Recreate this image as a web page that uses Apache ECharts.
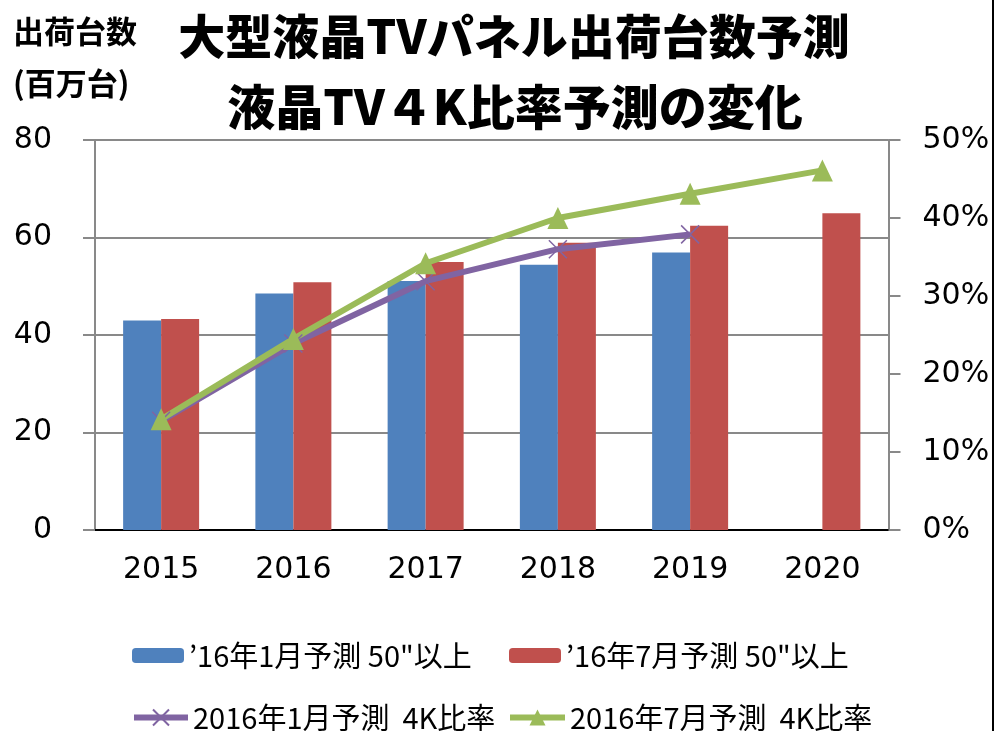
<!DOCTYPE html>
<html>
<head>
<meta charset="utf-8">
<script src="https://cdn.jsdelivr.net/npm/echarts@6/dist/echarts.min.js"></script>
<style>
html, body { margin: 0; padding: 0; background: #fff; }
#chart { width: 999px; height: 731px; }
</style>
</head>
<body>
<div id="chart"></div>
<script>
// 年
var years = ['2015', '2016', '2017', '2018', '2019', '2020'];
// 出荷台数 (百万台)
var jan50 = [43.0, 48.5, 51.1, 54.4, 56.9, null];
var jul50 = [43.3, 50.8, 55.0, 58.9, 62.4, 65.0];
// 4K比率 (%)
var jan4k = [14.0, 23.9, 31.9, 36.0, 37.9, null];
var jul4k = [14.2, 24.5, 34.2, 40.0, 43.1, 46.1];
var leftTicks = [0, 80, 20];
var rightTicks = [0, 50, 10];

var names = ['’16年1月予測 50"以上', '’16年7月予測 50"以上', '2016年1月予測  4K比率', '2016年7月予測  4K比率'];
var colors = ['#4F81BD', '#C0504D', '#8064A2', '#9BBB59'];

var jp = '"Noto Sans CJK JP", sans-serif';
var num = '"DejaVu Sans", Verdana, sans-serif';
var gray = '#898989';

let chart = echarts.init(document.getElementById('chart'));

function legendAt(name, left, top, w, h) {
    return {
        data: [name], left: left, top: top, padding: 0,
        itemWidth: w, itemHeight: h, itemGap: 0,
        selectedMode: false,
        lineStyle: { width: 6 },
        textStyle: { fontFamily: jp, fontSize: 29, color: '#000' }
    };
}

let option = {
    animation: false,
    title: [
        { text: '大型液晶TVパネル出荷台数予測', left: 514, top: 13, padding: 0, textAlign: 'center',
          textStyle: { fontFamily: jp, fontSize: 47, fontWeight: 900, color: '#000' } },
        { text: '液晶TV４K比率予測の変化', left: 515, top: 83, padding: 0, textAlign: 'center',
          textStyle: { fontFamily: jp, fontSize: 48, fontWeight: 900, color: '#000' } },
        { text: '出荷台数', left: 13, top: 16, padding: 0,
          textStyle: { fontFamily: jp, fontSize: 31, fontWeight: 'bold', color: '#000' } },
        { text: '(百万台)', left: 13, top: 68, padding: 0,
          textStyle: { fontFamily: jp, fontSize: 31, fontWeight: 'bold', color: '#000' } }
    ],
    legend: [
        legendAt(names[0], 132, 641, 52, 15),
        legendAt(names[1], 509, 641, 52, 15),
        legendAt(names[2], 131, 703, 54, 20),
        legendAt(names[3], 507, 703, 55, 20)
    ],
    grid: { left: 95, right: 110.5, top: 140, bottom: 201 },
    xAxis: [
        {
            type: 'category',
            data: years,
            axisLine: { lineStyle: { color: gray, width: 2 } },
            axisTick: { show: false },
            axisLabel: { fontFamily: num, fontSize: 30, color: '#000', margin: 25 }
        },
        {
            type: 'category',
            data: years,
            position: 'top',
            axisLine: { lineStyle: { color: '#000', width: 2 } },
            axisTick: { show: false },
            axisLabel: { show: false }
        }
    ],
    yAxis: [
        {
            type: 'value',
            min: leftTicks[0], max: leftTicks[1], interval: leftTicks[2],
            axisLine: { show: true, lineStyle: { color: gray, width: 2 } },
            axisTick: { show: true, length: 12, lineStyle: { color: gray, width: 2 } },
            splitLine: { lineStyle: { color: gray, width: 2 } },
            axisLabel: { fontFamily: num, fontSize: 30, color: '#000', margin: 43 }
        },
        {
            type: 'value',
            position: 'right',
            min: rightTicks[0], max: rightTicks[1], interval: rightTicks[2],
            axisLine: { show: true, lineStyle: { color: gray, width: 2 } },
            axisTick: { show: true, length: 12, lineStyle: { color: gray, width: 2 } },
            splitLine: { show: false },
            axisLabel: { fontFamily: num, fontSize: 30, color: '#000', margin: 34, formatter: '{value}%' }
        }
    ],
    series: [
        {
            name: names[0], type: 'bar', data: jan50,
            barWidth: 38, barGap: '0%',
            itemStyle: { color: colors[0] }
        },
        {
            name: names[1], type: 'bar', data: jul50,
            barWidth: 38, barGap: '0%',
            itemStyle: { color: colors[1] }
        },
        {
            name: names[2], type: 'line', yAxisIndex: 1, data: jan4k,
            symbol: 'path://M0,0L10,10M10,0L0,10', symbolSize: 18,
            lineStyle: { color: colors[2], width: 6 },
            itemStyle: { color: colors[2], borderColor: colors[2], borderWidth: 1.5 }
        },
        {
            name: names[3], type: 'line', yAxisIndex: 1, data: jul4k,
            symbol: 'triangle', symbolSize: [21, 22],
            lineStyle: { color: colors[3], width: 6 },
            itemStyle: { color: colors[3] }
        }
    ],
    graphic: [
        { type: 'rect', shape: { x: 992, y: 0, width: 2, height: 731 }, style: { fill: '#000' } }
    ]
};

chart.setOption(option);
</script>
</body>
</html>
